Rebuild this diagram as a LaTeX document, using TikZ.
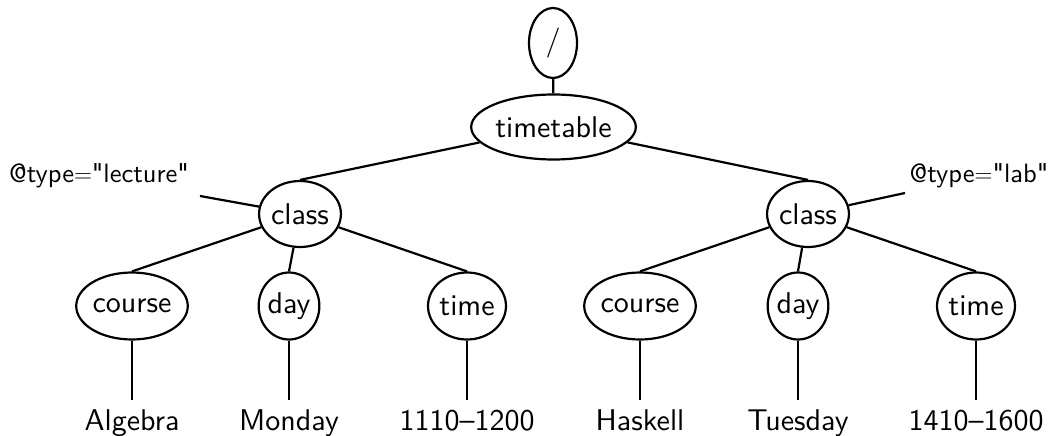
\documentclass[tikz,border=0pt]{standalone}
\usepackage{fontspec}
\setsansfont{lmsans10-regular.otf}
\usetikzlibrary{shapes.geometric}
\newcommand{\dq}{\textquotedbl}
\tikzset{
  elem/.style={ellipse, draw, line width=2.2pt, inner sep=0pt,
    font=\sffamily\fontsize{30}{36}\selectfont},
  leaf/.style={anchor=base, inner xsep=0pt, inner ysep=9pt,
    text height=21pt, text depth=6pt,
    font=\sffamily\fontsize{30}{36}\selectfont},
  attr/.style={anchor=base, inner sep=0pt,
    font=\sffamily\fontsize{26.5}{32}\selectfont},
  edge/.style={line width=2.2pt},
}
\begin{document}
\begin{tikzpicture}[x=1pt, y=-1pt]
\useasboundingbox (0,0) rectangle (1058,436);

% document root and element tree
\node[elem, minimum width=48pt, minimum height=70pt] (root) at (553,43) {/};
\node[elem, minimum width=161pt, minimum height=65pt] (tt) at (553.5,127) {timetable};

\node[elem, minimum width=77pt, minimum height=66pt] (c1) at (300,214) {class};
\node[elem, minimum width=80pt, minimum height=66pt] (c2) at (808,214) {class};

\node[elem, minimum width=110pt, minimum height=67pt] (co1) at (132,306) {course};
\node[elem, minimum width=60pt, minimum height=67pt] (d1) at (289,306) {day};
\node[elem, minimum width=77pt, minimum height=67pt] (t1) at (467,306) {time};

\node[elem, minimum width=110pt, minimum height=67pt] (co2) at (640,306) {course};
\node[elem, minimum width=60pt, minimum height=67pt] (d2) at (798,306) {day};
\node[elem, minimum width=77pt, minimum height=67pt] (t2) at (976,306) {time};

% text leaves
\node[leaf] (l1) at (132,430) {Algebra};
\node[leaf] (l2) at (289,430) {Monday};
\node[leaf] (l3) at (467,430) {1110--1200};
\node[leaf] (l4) at (640,430) {Haskell};
\node[leaf] (l5) at (798,430) {Tuesday};
\node[leaf] (l6) at (976,430) {1410--1600};

% attributes
\node[attr] (a1) at (99,182) {@type$=$\dq lecture\dq};
\node[attr] (a2) at (979,182) {@type$=$\dq lab\dq};
\coordinate (a1e) at (200,196);
\coordinate (a2e) at (905,193);

% connectors
\draw[edge] (root) -- (tt);
\draw[edge] (tt) -- (c1.north);
\draw[edge] (tt) -- (c2.north);
\draw[edge] (c1) -- (co1.north);
\draw[edge] (c1) -- (d1.north);
\draw[edge] (c1) -- (t1.north);
\draw[edge] (c2) -- (co2.north);
\draw[edge] (c2) -- (d2.north);
\draw[edge] (c2) -- (t2.north);
\draw[edge] (co1.south) -- (l1.north);
\draw[edge] (d1.south) -- (l2.north);
\draw[edge] (t1.south) -- (l3.north);
\draw[edge] (co2.south) -- (l4.north);
\draw[edge] (d2.south) -- (l5.north);
\draw[edge] (t2.south) -- (l6.north);
\draw[edge] (a1e) -- (c1);
\draw[edge] (a2e) -- (c2);
\end{tikzpicture}
\end{document}
